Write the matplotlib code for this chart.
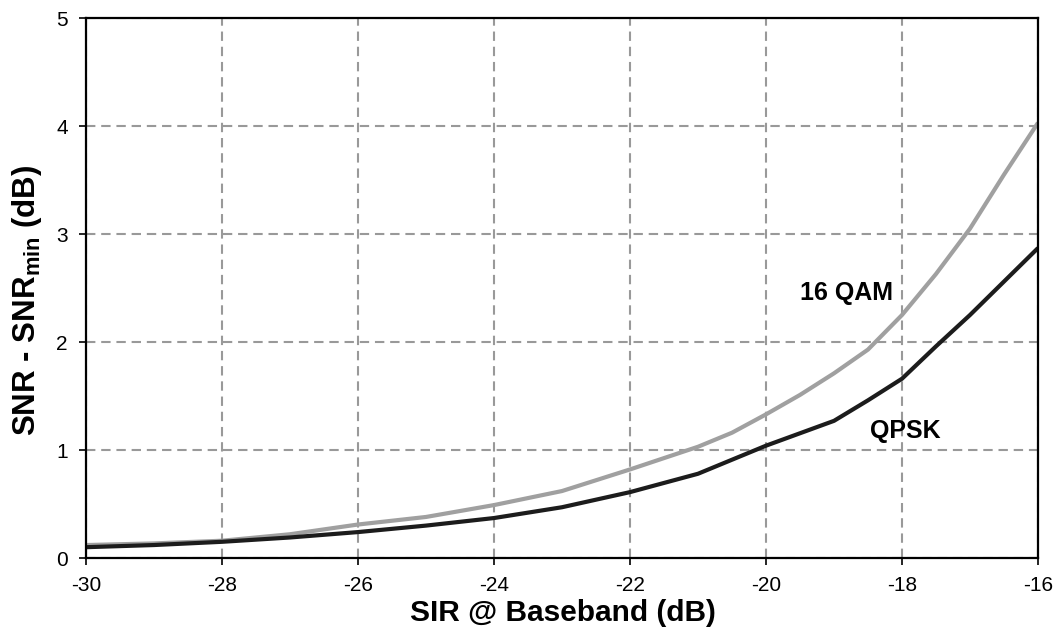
import matplotlib
matplotlib.use("Agg")
import matplotlib.pyplot as plt

plt.rcParams['font.family'] = ['Liberation Sans', 'DejaVu Sans']
plt.rcParams['mathtext.fontset'] = 'custom'
plt.rcParams['mathtext.bf'] = 'Liberation Sans:bold'
plt.rcParams['mathtext.rm'] = 'Liberation Sans'

# 16 QAM curve (gray)
qam_sir = [-30, -29, -28, -27, -26, -25, -24.5, -24, -23, -22.5, -22, -21,
           -20.5, -20, -19.5, -19, -18.5, -18.25, -18, -17.5, -17, -16.5, -16]
qam_snr = [0.12, 0.135, 0.16, 0.22, 0.31, 0.38, 0.435, 0.49, 0.62, 0.72, 0.82, 1.03,
           1.16, 1.33, 1.51, 1.71, 1.93, 2.09, 2.25, 2.63, 3.05, 3.55, 4.03]

# QPSK curve (black)
qpsk_sir = [-30, -29, -28, -27, -26, -25, -24, -23, -22.5, -22, -21, -20,
            -19, -18.5, -18, -17.5, -17, -16.5, -16]
qpsk_snr = [0.10, 0.12, 0.15, 0.19, 0.24, 0.30, 0.37, 0.47, 0.54, 0.61, 0.78, 1.04,
            1.27, 1.46, 1.66, 1.96, 2.25, 2.56, 2.87]

x_ticks = [-30, -28, -26, -24, -22, -20, -18, -16]
y_ticks = [0, 1, 2, 3, 4, 5]


def main():
    fig = plt.figure(figsize=(10.58, 6.4), dpi=100)
    ax = fig.add_axes([86 / 1058, 1 - 558 / 640, 952 / 1058, 540 / 640])

    ax.plot(qam_sir, qam_snr, color='#a0a0a0', lw=3.0, solid_capstyle='butt', zorder=3)
    ax.plot(qpsk_sir, qpsk_snr, color='#1c1c1c', lw=3.0, solid_capstyle='butt', zorder=4)

    ax.set_xlim(-30, -16)
    ax.set_ylim(0, 5)
    ax.set_xticks(x_ticks)
    ax.set_yticks(y_ticks)
    ax.set_xticklabels([str(t) for t in x_ticks])
    ax.grid(True, color='#999999', lw=1.5, linestyle=(0, (4.5, 2.8)), zorder=1)
    ax.set_axisbelow(True)

    for s in ax.spines.values():
        s.set_linewidth(1.6)
        s.set_color('black')
        s.set_zorder(5)

    ax.tick_params(axis='both', direction='out', length=5, width=1.2,
                   labelsize=15, colors='black')
    ax.tick_params(axis='x', pad=8)
    ax.tick_params(axis='y', pad=8)

    ax.text(-19.5, 2.39, '16 QAM', fontsize=18, fontweight='bold', va='baseline')
    ax.text(-18.47, 1.11, 'QPSK', fontsize=18, fontweight='bold', va='baseline')

    fig.text(563 / 1058, 1 - 621 / 640, 'SIR @ Baseband (dB)', fontsize=21.5,
             fontweight='bold', ha='center', va='baseline')
    fig.text(27 / 1058, 1 - 300 / 640, r'SNR - SNR$_{\mathbf{min}}$ (dB)', fontsize=22.5,
             fontweight='bold', ha='center', va='center', rotation=90)

    fig.savefig('out.png', dpi=100)


if __name__ == "__main__":
    main()
